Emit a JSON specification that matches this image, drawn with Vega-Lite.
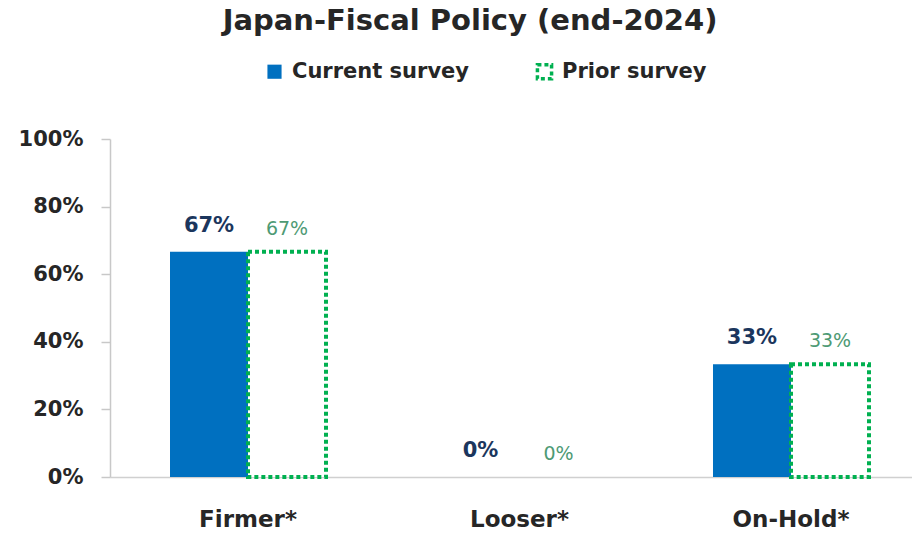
{
  "$schema": "https://vega.github.io/schema/vega-lite/v6.json",
  "autosize": {"type": "none"},
  "padding": {"left": 110, "top": 139, "right": 0, "bottom": 56},
  "width": 802,
  "height": 338,
  "background": "white",
  "title": {
    "text": "Japan-Fiscal  Policy (end-2024)",
    "anchor": "middle",
    "dx": -41,
    "font": "DejaVu Sans",
    "fontSize": 29,
    "fontWeight": "bold",
    "color": "#262626",
    "offset": 25
  },
  "config": {
    "view": {"stroke": null},
    "legend": {"padding": 0}
  },
  "data": {
    "values": [
      {"category": "Firmer*", "series": "Current survey", "value": 0.6667},
      {"category": "Firmer*", "series": "Prior survey", "value": 0.6667},
      {"category": "Looser*", "series": "Current survey", "value": 0},
      {"category": "Looser*", "series": "Prior survey", "value": 0},
      {"category": "On-Hold*", "series": "Current survey", "value": 0.3333},
      {"category": "On-Hold*", "series": "Prior survey", "value": 0.3333}
    ]
  },
  "encoding": {
    "x": {
      "field": "category",
      "type": "nominal",
      "sort": ["Firmer*", "Looser*", "On-Hold*"],
      "scale": {"paddingInner": 0.4254, "paddingOuter": 0.221, "range": [0, 819]},
      "axis": {
        "title": null,
        "labelAngle": 0,
        "ticks": false,
        "domainColor": "#D0D0D0",
        "domainWidth": 1.5,
        "labelFont": "DejaVu Sans",
        "labelFontSize": 23,
        "labelFontWeight": "bold",
        "labelColor": "#262626",
        "labelPadding": 31
      }
    },
    "xOffset": {
      "field": "series",
      "type": "nominal",
      "scale": {"domain": ["Current survey", "Prior survey"], "paddingInner": 0, "paddingOuter": 0}
    },
    "y": {
      "field": "value",
      "type": "quantitative",
      "scale": {"domain": [0, 1], "nice": false},
      "axis": {
        "title": null,
        "values": [0, 0.2, 0.4, 0.6, 0.8, 1],
        "format": ".0%",
        "grid": false,
        "domainColor": "#C8C8C8",
        "domainWidth": 1.5,
        "tickColor": "#C8C8C8",
        "tickSize": 9,
        "tickWidth": 1.5,
        "labelFont": "DejaVu Sans",
        "labelFontSize": 21,
        "labelFontWeight": "bold",
        "labelColor": "#262626",
        "labelPadding": 18
      }
    }
  },
  "layer": [
    {
      "transform": [{"filter": "datum.value > 0"}],
      "mark": {"type": "bar", "strokeWidth": 4},
      "encoding": {
        "fill": {
          "field": "series",
          "type": "nominal",
          "scale": {"domain": ["Current survey", "Prior survey"], "range": ["#0070C0", "#FFFFFF"]},
          "legend": {
            "title": null,
            "orient": "none",
            "direction": "horizontal",
            "legendX": 154,
            "legendY": -78,
            "symbolType": "square",
            "symbolSize": 200,
            "symbolStrokeWidth": 3.5,
            "labelFont": "DejaVu Sans",
            "labelFontSize": 21,
            "labelFontWeight": "bold",
            "labelColor": "#262626",
            "labelOffset": 7,
            "labelLimit": 400,
            "columnPadding": 60
          }
        },
        "stroke": {
          "field": "series",
          "type": "nominal",
          "scale": {"domain": ["Current survey", "Prior survey"], "range": ["rgba(0,0,0,0)", "#00B050"]},
          "legend": {
            "title": null,
            "orient": "none",
            "direction": "horizontal",
            "legendX": 154,
            "legendY": -78,
            "symbolType": "square",
            "symbolSize": 200,
            "symbolStrokeWidth": 3.5,
            "labelFont": "DejaVu Sans",
            "labelFontSize": 21,
            "labelFontWeight": "bold",
            "labelColor": "#262626",
            "labelOffset": 7,
            "labelLimit": 400,
            "columnPadding": 60
          }
        },
        "strokeDash": {
          "field": "series",
          "type": "nominal",
          "scale": {"domain": ["Current survey", "Prior survey"], "range": [[1, 0], [4, 3]]},
          "legend": {
            "title": null,
            "orient": "none",
            "direction": "horizontal",
            "legendX": 154,
            "legendY": -78,
            "symbolType": "square",
            "symbolSize": 200,
            "symbolStrokeWidth": 3.5,
            "labelFont": "DejaVu Sans",
            "labelFontSize": 21,
            "labelFontWeight": "bold",
            "labelColor": "#262626",
            "labelOffset": 7,
            "labelLimit": 400,
            "columnPadding": 60
          }
        }
      }
    },
    {
      "transform": [{"filter": "datum.series === 'Current survey'"}],
      "mark": {"type": "text", "dy": -20, "baseline": "alphabetic", "font": "DejaVu Sans", "fontSize": 21, "fontWeight": "bold", "color": "#1B365D"},
      "encoding": {
        "text": {"field": "value", "type": "quantitative", "format": ".0%"}
      }
    },
    {
      "transform": [{"filter": "datum.series === 'Prior survey'"}],
      "mark": {"type": "text", "dy": -17, "baseline": "alphabetic", "font": "DejaVu Sans", "fontSize": 19, "fontWeight": "normal", "color": "#4E9A74"},
      "encoding": {
        "text": {"field": "value", "type": "quantitative", "format": ".0%"}
      }
    }
  ]
}
